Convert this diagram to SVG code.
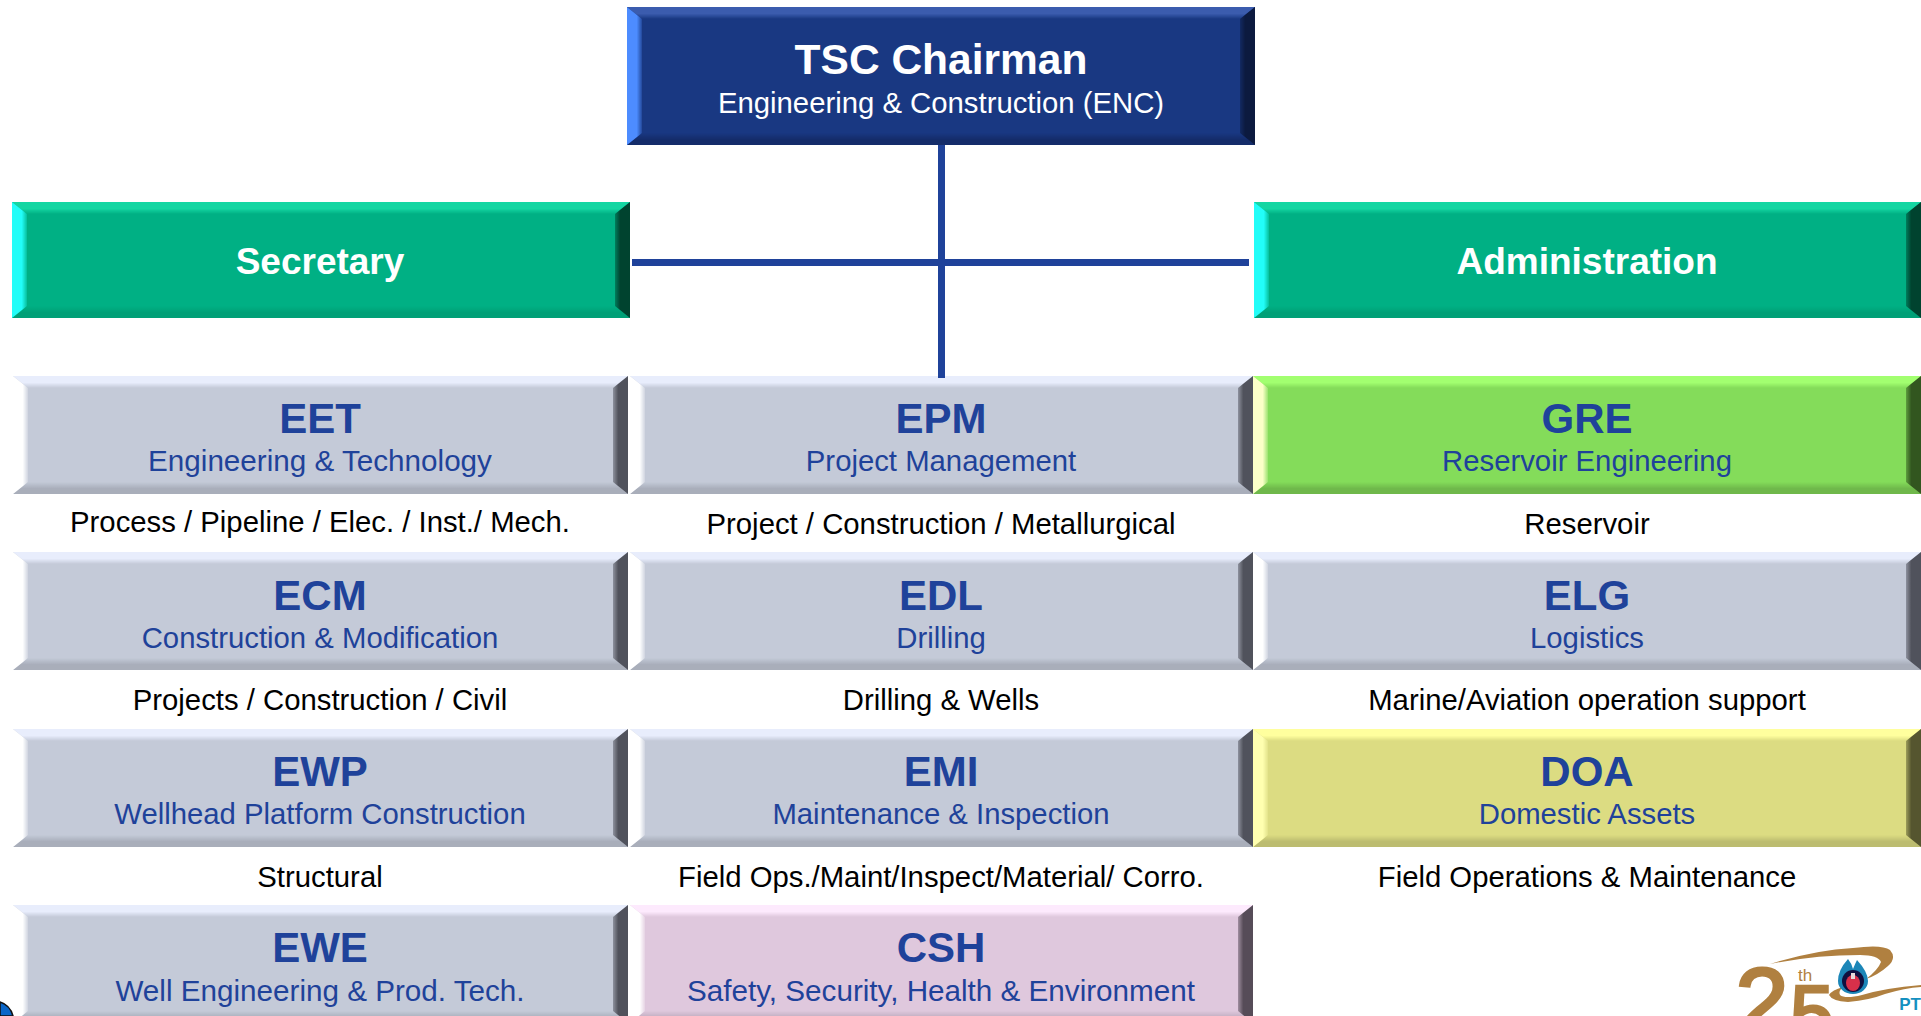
<svg xmlns="http://www.w3.org/2000/svg" width="1921" height="1016" viewBox="0 0 1921 1016">
<style>
text{font-family:"Liberation Sans",Arial,sans-serif;text-anchor:middle}
.h{font-weight:700;font-size:42px;fill:#1f429a}
.s{font-size:29.3px;fill:#1f429a}
.s2{font-size:29.65px;fill:#1f429a}
.d{font-size:29.3px;fill:#000}
.w{fill:#fff}
.base{fill:var(--m)}.t{fill:var(--t)}.l{fill:var(--l)}.r{fill:var(--r)}.b{fill:var(--b)}
.navy{--m:#193882;--t:#3b5cae;--l:#4d8cff;--r:#0c1a3f;--b:#142c6a}
.teal{--m:#00b084;--t:#14d6a2;--l:#22fdf8;--r:#00432f;--b:#00a077}
.grey{--m:#c4cad8;--t:#e8edfc;--l:#fff;--r:#50525c;--b:#a9aeba}
.lime{--m:#84dc5a;--t:#a2ff70;--l:#fbffc8;--r:#32561f;--b:#6fb84b}
.sand{--m:#dcdc82;--t:#ffff9e;--l:#ffffb0;--r:#55552f;--b:#bcbc70}
.pink{--m:#dfc8dd;--t:#fdeafd;--l:#fff;--r:#564c58;--b:#bfacbf}
.conn{fill:#1f429a}
.gold{fill:#b08040}
</style>
<defs>
<linearGradient id="gt" x1="0" x2="0" y1="0" y2="1"><stop offset="0" stop-color="#fff"/><stop offset=".55" stop-color="#fff"/><stop offset="1" stop-color="#000"/></linearGradient>
<linearGradient id="gb" x1="0" x2="0" y1="0" y2="1"><stop offset="0" stop-color="#000"/><stop offset=".55" stop-color="#fff"/><stop offset="1" stop-color="#fff"/></linearGradient>
<linearGradient id="gl" x1="0" x2="1" y1="0" y2="0"><stop offset="0" stop-color="#fff"/><stop offset=".65" stop-color="#fff"/><stop offset="1" stop-color="#333"/></linearGradient>
<linearGradient id="gr" x1="0" x2="1" y1="0" y2="0"><stop offset="0" stop-color="#777"/><stop offset=".35" stop-color="#fff"/><stop offset="1" stop-color="#fff"/></linearGradient>
<mask id="mt" maskContentUnits="objectBoundingBox"><rect width="1" height="1" fill="url(#gt)"/></mask>
<mask id="mb" maskContentUnits="objectBoundingBox"><rect width="1" height="1" fill="url(#gb)"/></mask>
<mask id="ml" maskContentUnits="objectBoundingBox"><rect width="1" height="1" fill="url(#gl)"/></mask>
<mask id="mr" maskContentUnits="objectBoundingBox"><rect width="1" height="1" fill="url(#gr)"/></mask>
<g id="b615"><rect class="base" width="615" height="118"/><polygon class="t" mask="url(#mt)" points="0,0 615,0 600,12 15,12"/><polygon class="b" mask="url(#mb)" points="0,118 15,106 600,106 615,118"/><polygon class="l" mask="url(#ml)" points="0,0 15,12 15,106 0,118"/><polygon class="r" mask="url(#mr)" points="615,0 615,118 600,106 600,12"/></g>
<g id="b623"><rect class="base" width="623" height="118"/><polygon class="t" mask="url(#mt)" points="0,0 623,0 608,12 15,12"/><polygon class="b" mask="url(#mb)" points="0,118 15,106 608,106 623,118"/><polygon class="l" mask="url(#ml)" points="0,0 15,12 15,106 0,118"/><polygon class="r" mask="url(#mr)" points="623,0 623,118 608,106 608,12"/></g>
<g id="b668"><rect class="base" width="668" height="118"/><polygon class="t" mask="url(#mt)" points="0,0 668,0 653,12 15,12"/><polygon class="b" mask="url(#mb)" points="0,118 15,106 653,106 668,118"/><polygon class="l" mask="url(#ml)" points="0,0 15,12 15,106 0,118"/><polygon class="r" mask="url(#mr)" points="668,0 668,118 653,106 653,12"/></g>
<g id="b628"><rect class="base" width="628" height="138"/><polygon class="t" mask="url(#mt)" points="0,0 628,0 613,12 15,12"/><polygon class="b" mask="url(#mb)" points="0,138 15,126 613,126 628,138"/><polygon class="l" mask="url(#ml)" points="0,0 15,12 15,126 0,138"/><polygon class="r" mask="url(#mr)" points="628,0 628,138 613,126 613,12"/></g>
<g id="b618"><rect class="base" width="618" height="116"/><polygon class="t" mask="url(#mt)" points="0,0 618,0 603,12 15,12"/><polygon class="b" mask="url(#mb)" points="0,116 15,104 603,104 618,116"/><polygon class="l" mask="url(#ml)" points="0,0 15,12 15,104 0,116"/><polygon class="r" mask="url(#mr)" points="618,0 618,116 603,104 603,12"/></g>
<g id="b667"><rect class="base" width="667" height="116"/><polygon class="t" mask="url(#mt)" points="0,0 667,0 652,12 15,12"/><polygon class="b" mask="url(#mb)" points="0,116 15,104 652,104 667,116"/><polygon class="l" mask="url(#ml)" points="0,0 15,12 15,104 0,116"/><polygon class="r" mask="url(#mr)" points="667,0 667,116 652,104 652,12"/></g>
</defs>
<rect width="1921" height="1016" fill="#fff"/>

<g id="chairman" class="navy"><use href="#b628" x="627" y="7"/>
<text class="w" x="941" y="74" font-size="42.5" font-weight="700">TSC Chairman</text>
<text class="w" x="941" y="113" font-size="29.3">Engineering &amp; Construction (ENC)</text>
</g>
<g id="secretary" class="teal"><use href="#b618" x="12" y="202"/>
<text class="w" x="320" y="274" font-size="37" font-weight="700">Secretary</text>
</g>
<g id="administration" class="teal"><use href="#b667" x="1254" y="202"/>
<text class="w" x="1587" y="274" font-size="37" font-weight="700">Administration</text>
</g>

<g id="EET" class="grey"><use href="#b615" x="13" y="376"/><text class="h" x="320" y="433">EET</text><text class="s2" x="320" y="471">Engineering &amp; Technology</text><text class="d" x="320" y="532">Process / Pipeline / Elec. / Inst./ Mech.</text></g>
<g id="EPM" class="grey"><use href="#b623" x="630" y="376"/><text class="h" x="941" y="433">EPM</text><text class="s" x="941" y="471">Project Management</text><text class="d" x="941" y="534">Project / Construction / Metallurgical</text></g>
<g id="GRE" class="lime"><use href="#b668" x="1253" y="376"/><text class="h" x="1587" y="433">GRE</text><text class="s" x="1587" y="471">Reservoir Engineering</text><text class="d" x="1587" y="534">Reservoir</text></g>

<g id="ECM" class="grey"><use href="#b615" x="13" y="552"/><text class="h" x="320" y="610">ECM</text><text class="s" x="320" y="648">Construction &amp; Modification</text><text class="d" x="320" y="710">Projects / Construction / Civil</text></g>
<g id="EDL" class="grey"><use href="#b623" x="630" y="552"/><text class="h" x="941" y="610">EDL</text><text class="s" x="941" y="648">Drilling</text><text class="d" x="941" y="710">Drilling &amp; Wells</text></g>
<g id="ELG" class="grey"><use href="#b668" x="1253" y="552"/><text class="h" x="1587" y="610">ELG</text><text class="s" x="1587" y="648">Logistics</text><text class="d" x="1587" y="710">Marine/Aviation operation support</text></g>

<g id="EWP" class="grey"><use href="#b615" x="13" y="729"/><text class="h" x="320" y="786">EWP</text><text class="s" x="320" y="824">Wellhead Platform Construction</text><text class="d" x="320" y="887">Structural</text></g>
<g id="EMI" class="grey"><use href="#b623" x="630" y="729"/><text class="h" x="941" y="786">EMI</text><text class="s" x="941" y="824">Maintenance &amp; Inspection</text><text class="d" x="941" y="887">Field Ops./Maint/Inspect/Material/ Corro.</text></g>
<g id="DOA" class="sand"><use href="#b668" x="1253" y="729"/><text class="h" x="1587" y="786">DOA</text><text class="s" x="1587" y="824">Domestic Assets</text><text class="d" x="1587" y="887">Field Operations &amp; Maintenance</text></g>

<g id="EWE" class="grey"><use href="#b615" x="13" y="905"/><text class="h" x="320" y="962">EWE</text><text class="s2" x="320" y="1001">Well Engineering &amp; Prod. Tech.</text></g>
<g id="CSH" class="pink"><use href="#b623" x="630" y="905"/><text class="h" x="941" y="962">CSH</text><text class="s2" x="941" y="1001">Safety, Security, Health &amp; Environment</text></g>

<g id="connectors">
<rect class="conn" x="938" y="145" width="7" height="233"/>
<rect class="conn" x="632" y="259" width="617" height="7"/>
</g>

<path d="M0,1002 Q10,1005 13,1016 L0,1016Z" fill="#0a66c8" stroke="#111" stroke-width="1.5"/>

<g id="logo">
<text class="gold" stroke="#b08040" stroke-width="3" x="1762" y="1035" font-size="96">2</text>
<text class="gold" stroke="#b08040" stroke-width="3" x="1812" y="1040" font-size="78">5</text>
<text class="gold" x="1805" y="981" font-size="17">th</text>
<path class="gold" d="M1770,964 Q1815,950 1853,948 Q1882,944 1890,950 Q1897,958 1888,966 Q1878,975 1866,979 Q1878,970 1881,962 Q1878,955 1860,955 Q1815,955 1770,964Z"/>
<path class="gold" d="M1921,985 Q1885,988 1862,995 Q1845,999 1840,995 Q1838,991 1843,987 Q1832,990 1829,995 Q1832,1001 1848,1002 Q1870,1000 1885,994 Q1905,988 1921,987Z"/>
<path d="M1848,959 Q1852,964 1853,969 Q1855,964 1857,960 Q1868,972 1868,981 A15,13 0 0 1 1838,981 Q1838,970 1848,959Z" fill="#1c86b8"/>
<circle cx="1853" cy="981" r="11" fill="#101040"/>
<ellipse cx="1853" cy="983" rx="7" ry="8" fill="#d8304a"/>
<rect x="1851" y="973" width="4" height="6" fill="#e8d8d8"/>
<text x="1910" y="1010" font-size="17" font-weight="700" fill="#1590c0">PT</text>
</g>
</svg>
